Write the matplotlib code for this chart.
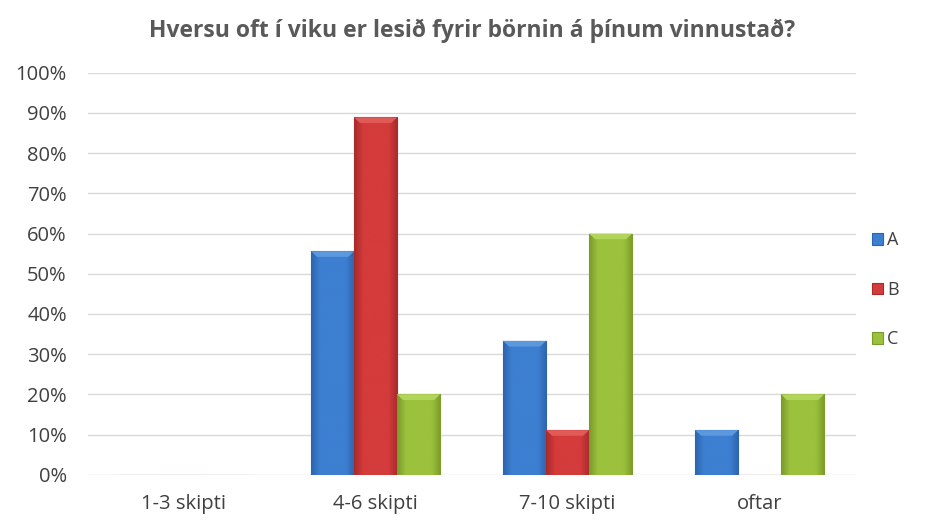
import matplotlib.pyplot as plt
import numpy as np
from matplotlib.colors import LinearSegmentedColormap

categories = ["1-3 skipti", "4-6 skipti", "7-10 skipti", "oftar"]
series = ["A", "B", "C"]
values_a = [0, 55.6, 33.3, 11.1]
values_b = [0, 88.9, 11.1, 0]
values_c = [0, 20.0, 60.0, 20.0]

# (edge, body, highlight)
palette = {
    "A": ("#2c64ae", "#3d7fd1", "#5b98de"),
    "B": ("#a82a2b", "#d43b3b", "#e05b58"),
    "C": ("#7a9a2a", "#9cc23d", "#b3d45a"),
}

plt.rcParams['font.family'] = ['Open Sans', 'DejaVu Sans']

fig = plt.figure(figsize=(9.32, 5.2), dpi=100)
ax = fig.add_axes([0.094, 0.087, 0.824, 0.773])

x = np.arange(len(categories))
w = 0.224
data = {"A": values_a, "B": values_b, "C": values_c}

for i, s in enumerate(series):
    dark, mid, light = palette[s]
    cmap = LinearSegmentedColormap.from_list(s, [dark, mid, mid, mid, mid, dark])
    bars = ax.bar(x + (i - 1) * w, data[s], w, color=mid, edgecolor=dark,
                  linewidth=0.8, zorder=3, label=s)
    for b in bars:
        h = b.get_height()
        if h <= 0:
            continue
        x0 = b.get_x()
        grad = np.linspace(0, 1, 64).reshape(1, -1)
        im = ax.imshow(grad, cmap=cmap, aspect='auto', zorder=3.5,
                       extent=[x0, x0 + w, 0, h], interpolation='bicubic')
        im.set_clip_path(b)
        # bevelled top
        ax.fill([x0, x0 + w, x0 + w * 0.86, x0 + w * 0.14],
                [h, h, h - 1.4, h - 1.4], color=light, zorder=4, lw=0)

ax.set_xlim(-0.5, 3.5)
ax.set_ylim(0, 100)
ax.set_yticks(np.arange(0, 101, 10))
ax.set_yticklabels([f"{v}%" for v in range(0, 101, 10)])
ax.set_xticks(x)
ax.set_xticklabels(categories)
ax.yaxis.grid(True, color="#d9d9d9", linewidth=1, zorder=0)
ax.set_axisbelow(True)
for sp in ax.spines.values():
    sp.set_visible(False)
ax.tick_params(axis='both', length=0, labelsize=14.5, colors="#404040")
ax.tick_params(axis='y', pad=15)
ax.tick_params(axis='x', pad=14)

ax.set_title("Hversu oft í viku er lesið fyrir börnin á þínum vinnustað?",
             fontsize=16.5, fontweight='bold', color="#595959", pad=26)

leg = ax.legend(loc='center left', bbox_to_anchor=(1.0, 0.46), frameon=False,
                fontsize=13, labelcolor="#404040", handlelength=0.6,
                handleheight=0.6, handletextpad=0.25, labelspacing=1.75)

fig.savefig("out.png", dpi=100, facecolor="white")
